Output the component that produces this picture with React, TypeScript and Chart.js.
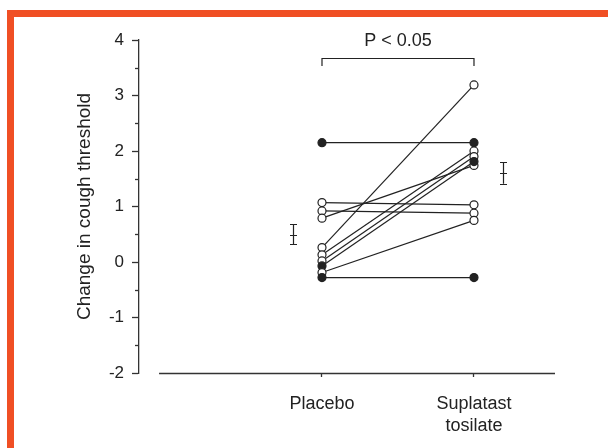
import React, { useEffect, useRef } from "react";
import { Chart, registerables } from "chart.js";
Chart.register(...registerables);

const FONT = "'Liberation Sans', Arial, Helvetica, sans-serif";
const INK = "#222";

// categories on the x axis
const groupLabels: (string | string[])[] = ["Placebo", ["Suplatast", "tosilate"]];
const groupX = [1, 2];

// individual subjects (paired)
const placebo = [2.15, 1.07, 0.92, 0.79, 0.26, 0.13, 0.02, -0.07, -0.19, -0.28];
const suplatast = [2.15, 1.03, 0.88, 1.74, 3.19, 2.0, 1.9, 1.81, 0.75, -0.28];
const filledMarker = [true, false, false, false, false, false, false, true, false, true];

// group mean ± SEM
const meanX = [0.81, 2.19];
const means = [0.49, 1.6];
const upper = [0.68, 1.8];
const lower = [0.32, 1.41];

// axes
const yMajorTicks = [-2, -1, 0, 1, 2, 3, 4];
const yMinorTicks = [-1.5, -0.5, 0.5, 1.5, 2.5, 3.5];
const yMin = -2;
const yMax = 4;
const xMin = -0.204;
const xMax = 2.533;
const xAxisStart = -0.072;

// significance bracket
const pText = "P < 0.05";
const bracketY = 3.68;
const bracketEndY = 3.53;
const pTextY = 3.98;

const decorPlugin = {
  id: "decor",
  beforeDraw(chart: any) {
    const { ctx, width, height } = chart;
    ctx.save();
    ctx.fillStyle = "#ffffff";
    ctx.fillRect(0, 0, width, height);
    ctx.fillStyle = "#F04F24";
    ctx.fillRect(7, 10, width - 7, 7);
    ctx.fillRect(7, 10, 7, height - 10);
    ctx.restore();
  },
  afterDraw(chart: any) {
    const { ctx, chartArea } = chart;
    const x = chart.scales.x;
    const y = chart.scales.y;
    ctx.save();
    ctx.strokeStyle = "#333";
    ctx.lineWidth = 1.3;
    // minor y ticks
    yMinorTicks.forEach((v) => {
      const py = Math.round(y.getPixelForValue(v)) + 0.5;
      ctx.beginPath();
      ctx.moveTo(chartArea.left - 4, py);
      ctx.lineTo(chartArea.left, py);
      ctx.stroke();
    });
    // x axis line
    const by = Math.round(y.getPixelForValue(yMin)) + 0.5;
    ctx.beginPath();
    ctx.moveTo(x.getPixelForValue(xAxisStart), by);
    ctx.lineTo(chartArea.right, by);
    ctx.stroke();
    // error bars
    ctx.strokeStyle = INK;
    ctx.lineWidth = 1.2;
    meanX.forEach((mx, i) => {
      const px = Math.round(x.getPixelForValue(mx)) + 0.5;
      const pu = y.getPixelForValue(upper[i]);
      const pl = y.getPixelForValue(lower[i]);
      const pm = y.getPixelForValue(means[i]);
      ctx.beginPath();
      ctx.moveTo(px, pu);
      ctx.lineTo(px, pl);
      [pu, pm, pl].forEach((p) => {
        const pp = Math.round(p) + 0.5;
        ctx.moveTo(px - 3.5, pp);
        ctx.lineTo(px + 3.5, pp);
      });
      ctx.stroke();
    });
    // bracket
    const x1 = x.getPixelForValue(groupX[0]);
    const x2 = x.getPixelForValue(groupX[1]);
    const yb = Math.round(y.getPixelForValue(bracketY)) + 0.5;
    const ye = y.getPixelForValue(bracketEndY);
    ctx.beginPath();
    ctx.moveTo(x1, ye);
    ctx.lineTo(x1, yb);
    ctx.lineTo(x2, yb);
    ctx.lineTo(x2, ye);
    ctx.stroke();
    ctx.fillStyle = INK;
    ctx.font = `18px ${FONT}`;
    ctx.textAlign = "center";
    ctx.textBaseline = "middle";
    ctx.fillText(pText, (x1 + x2) / 2, y.getPixelForValue(pTextY));
    ctx.restore();
  },
};

export default function App() {
  const ref = useRef<HTMLCanvasElement>(null);
  useEffect(() => {
    if (!ref.current) return;
    const lineSets = placebo.map((p, i) => ({
      type: "line" as const,
      data: [
        { x: groupX[0], y: p },
        { x: groupX[1], y: suplatast[i] },
      ],
      borderColor: INK,
      borderWidth: 1.2,
      pointRadius: 0,
      fill: false,
      order: 1,
    }));
    const pointSets = [placebo, suplatast].map((vals, g) => ({
      type: "scatter" as const,
      data: vals.map((v) => ({ x: groupX[g], y: v })),
      pointRadius: 4,
      pointBorderWidth: 1.2,
      pointBorderColor: INK,
      pointBackgroundColor: filledMarker.map((f) => (f ? INK : "#ffffff")),
      showLine: false,
      order: 0,
    }));
    const chart = new Chart(ref.current, {
      type: "scatter",
      data: { datasets: [...lineSets, ...pointSets] as any },
      options: {
        animation: false,
        responsive: false,
        events: [],
        layout: { padding: { left: 68, right: 53, top: 40, bottom: 0 } },
        plugins: { legend: { display: false }, tooltip: { enabled: false } },
        scales: {
          x: {
            type: "linear",
            min: xMin,
            max: xMax,
            afterBuildTicks: (s: any) => {
              s.ticks = groupX.map((v) => ({ value: v }));
            },
            afterFit: (s: any) => {
              s.height = 75;
            },
            ticks: {
              callback: (_v: any, i: number) => groupLabels[i] as any,
              font: { family: FONT, size: 18, lineHeight: 22 / 18 },
              color: INK,
              padding: 16,
              maxRotation: 0,
              autoSkip: false,
            },
            grid: {
              display: true,
              drawOnChartArea: false,
              drawTicks: true,
              tickLength: 4,
              tickColor: "#333",
              tickWidth: 1.3,
            },
            border: { display: false },
          },
          y: {
            type: "linear",
            min: yMin,
            max: yMax,
            afterBuildTicks: (s: any) => {
              s.ticks = yMajorTicks.map((v) => ({ value: v }));
            },
            afterFit: (s: any) => {
              s.width = 71;
            },
            ticks: {
              font: { family: FONT, size: 17 },
              color: INK,
              padding: 8,
            },
            grid: {
              display: true,
              drawOnChartArea: false,
              drawTicks: true,
              tickLength: 7,
              tickColor: "#333",
              tickWidth: 1.3,
            },
            border: { display: true, color: "#333", width: 1.3 },
            title: {
              display: true,
              text: "Change in cough threshold",
              font: { family: FONT, size: 19 },
              color: INK,
              padding: { top: 5, bottom: 0 },
            },
          },
        },
      },
      plugins: [decorPlugin],
    });
    return () => chart.destroy();
  }, []);
  return (
    <div style={{ position: "absolute", left: 0, top: 0, width: 608, height: 448 }}>
      <canvas ref={ref} width={608} height={448} style={{ display: "block" }} />
    </div>
  );
}
